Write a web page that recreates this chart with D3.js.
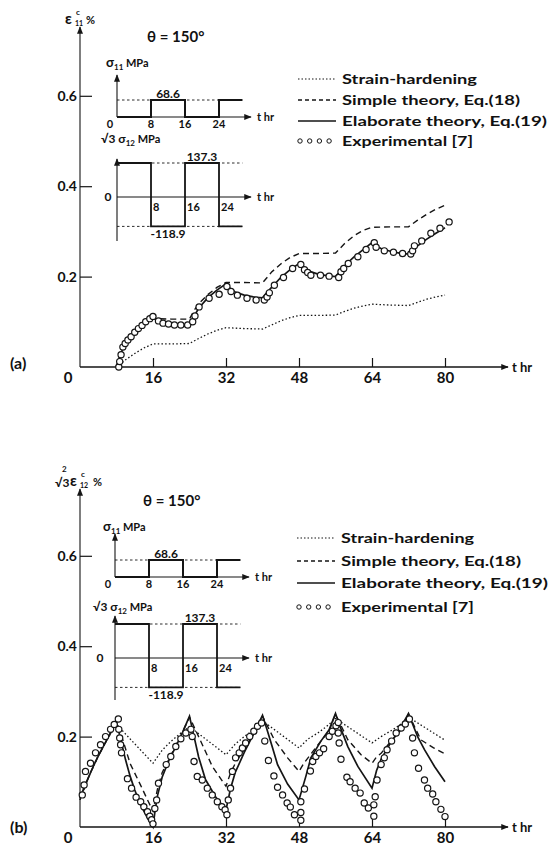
<!DOCTYPE html>
<html>
<head>
<meta charset="utf-8">
<script src="https://cdn.jsdelivr.net/npm/d3@7"></script>
<style>
  body { margin: 0; background: #fff; }
  text { font-family: Lato, "DejaVu Sans", sans-serif; font-weight: bold; fill: #111; }
</style>
</head>
<body>
<svg id="chart" width="549" height="846"></svg>
<script>
// ---- data ----
const xTicks = [16, 32, 48, 64, 80];
const yTicks = [0.2, 0.4, 0.6];
const legendLabels = ['Strain-hardening', 'Simple theory, Eq.(18)', 'Elaborate theory, Eq.(19)', 'Experimental [7]'];

// loading history shown in the insets (hours, MPa)
const stepTimes = [0, 8, 16, 24, 29.5];
const sigma11Steps = [0, 68.6, 0, 68.6, 68.6];
const sigma12Steps = [137.3, -118.9, 137.3, -118.9, -118.9];
const stepTickLabels = [8, 16, 24];

// (a) axial creep strain eps11 [%] vs t [hr]
const hardeningA = [[8,0],[10,0.016],[12,0.03],[14,0.042],[16,0.051],[20,0.051],[24,0.052],[26,0.063],[28,0.073],[30,0.081],[32,0.087],[36,0.085],[40,0.084],[42,0.093],[44,0.102],[46,0.109],[48,0.114],[52,0.114],[56,0.115],[58,0.123],[60,0.13],[62,0.135],[64,0.139],[68,0.137],[72,0.136],[74,0.143],[76,0.15],[78,0.155],[80,0.159]];
const simpleA = [[8,0],[8.5,0.018],[9,0.03],[9.5,0.043],[10,0.053],[11,0.066],[12,0.077],[14,0.095],[16,0.107],[20,0.106],[24,0.106],[25,0.125],[26,0.14],[28,0.16],[30,0.176],[32,0.187],[36,0.187],[40,0.186],[42,0.21],[44,0.228],[46,0.242],[48,0.251],[52,0.251],[56,0.252],[58,0.273],[60,0.29],[62,0.302],[64,0.309],[68,0.31],[72,0.31],[74,0.325],[76,0.338],[78,0.349],[80,0.358]];
const elaborateA = [[8,0],[8.5,0.018],[9,0.03],[9.5,0.044],[10,0.054],[11,0.066],[12,0.077],[13,0.088],[14,0.097],[15,0.104],[16,0.111],[17,0.104],[18,0.099],[20,0.094],[22,0.091],[24,0.089],[25,0.112],[26,0.13],[28,0.153],[30,0.17],[32,0.184],[33,0.173],[34,0.166],[36,0.159],[38,0.155],[40,0.153],[41,0.165],[42,0.176],[44,0.198],[46,0.215],[48,0.229],[49,0.219],[50,0.213],[52,0.206],[54,0.202],[56,0.2],[57,0.212],[58,0.224],[60,0.243],[62,0.259],[64,0.275],[65,0.267],[66,0.262],[68,0.256],[70,0.252],[72,0.25],[73,0.26],[74,0.268],[76,0.283],[78,0.296],[80,0.308]];
const experimentA = [[8.5,0],[8.7,0.012],[9,0.027],[9.4,0.044],[9.9,0.052],[10.5,0.06],[11.2,0.067],[12,0.077],[12.8,0.085],[13.6,0.092],[14.4,0.1],[15.3,0.107],[16,0.112],[17.2,0.102],[18.2,0.097],[19.4,0.095],[20.7,0.093],[22.1,0.093],[23.6,0.093],[24.7,0.1],[25.2,0.113],[26.1,0.133],[28.3,0.152],[30.5,0.161],[32.2,0.178],[33.1,0.167],[34.5,0.159],[36.6,0.152],[38.6,0.148],[40.4,0.148],[41,0.155],[41.5,0.164],[42.6,0.181],[44.6,0.198],[46.6,0.218],[48.4,0.227],[49.2,0.215],[49.9,0.209],[50.6,0.203],[52.7,0.203],[54.6,0.201],[56.7,0.198],[57.2,0.211],[57.8,0.218],[58.8,0.229],[60.9,0.244],[62.7,0.26],[64.5,0.275],[64.9,0.265],[66.7,0.257],[68.7,0.254],[70.7,0.251],[72.5,0.25],[72.9,0.257],[73.3,0.268],[74.9,0.279],[76.9,0.296],[78.9,0.307],[80.9,0.321]];

// (b) shear creep strain 2/sqrt3 eps12 [%] vs t [hr]
const hardeningB = [[0,0.06],[2,0.113],[4,0.157],[6,0.195],[8,0.227],[16,0.141],[18,0.17],[20,0.19],[22,0.207],[24,0.222],[32,0.16],[34,0.183],[36,0.2],[38,0.215],[40,0.235],[48,0.175],[50,0.195],[52,0.207],[54,0.222],[56,0.24],[64,0.186],[66,0.2],[68,0.212],[70,0.225],[72,0.243],[80,0.192]];
const simpleB = [[0,0.06],[1,0.088],[2,0.113],[3,0.136],[4,0.157],[5,0.176],[6,0.195],[7,0.214],[8,0.232],[9,0.205],[11,0.14],[13.3,0.092],[14.8,0.06],[16,0.035],[17,0.085],[18,0.12],[20,0.16],[22,0.2],[24,0.243],[26,0.2],[29,0.134],[32,0.09],[33,0.12],[34,0.14],[36,0.172],[38,0.205],[40,0.245],[42.6,0.193],[45.5,0.153],[48,0.123],[49,0.14],[50.5,0.16],[52.8,0.19],[54.6,0.213],[56,0.25],[58.7,0.193],[61.6,0.16],[64,0.141],[65,0.155],[66,0.163],[68,0.188],[70,0.21],[72,0.25],[74.7,0.193],[77.5,0.175],[80,0.162]];
const elaborateB = [[0,0.064],[1,0.09],[2,0.113],[3,0.136],[4,0.157],[5,0.176],[6,0.195],[7,0.214],[8,0.232],[9,0.19],[10,0.148],[11,0.112],[12,0.082],[13,0.056],[14,0.035],[15,0.016],[16,0],[16.5,0.04],[17,0.07],[18,0.11],[19.5,0.148],[21,0.178],[22.5,0.21],[24,0.245],[25,0.2],[26,0.155],[27.5,0.105],[29.7,0.067],[32,0.038],[33,0.085],[34,0.12],[36,0.165],[38,0.205],[40,0.247],[41,0.215],[42,0.182],[43.3,0.138],[45.5,0.095],[48,0.06],[49.5,0.112],[50.6,0.153],[52.8,0.19],[54.6,0.215],[56,0.251],[57,0.222],[58.7,0.178],[60.9,0.134],[64,0.086],[65,0.125],[66,0.15],[68,0.185],[70,0.215],[72,0.251],[73,0.225],[74,0.2],[75.5,0.171],[77.7,0.134],[80,0.1]];
const experimentB = [[0.5,0.071],[0.9,0.093],[1.2,0.123],[2.3,0.141],[3.4,0.164],[4.5,0.182],[5.6,0.2],[6.7,0.216],[7.5,0.227],[8.4,0.239],[8.5,0.216],[8.7,0.197],[8.9,0.182],[9.1,0.164],[10.4,0.107],[11.3,0.086],[12.3,0.066],[13.3,0.056],[14,0.045],[14.8,0.034],[15.3,0.024],[15.7,0.016],[16,0.007],[16.4,0.041],[16.8,0.06],[17.2,0.097],[18.9,0.138],[19.9,0.156],[21,0.178],[22.1,0.195],[23.2,0.208],[24.3,0.216],[24.6,0.2],[25,0.145],[25.7,0.112],[26.8,0.104],[27.9,0.086],[29,0.071],[30.1,0.056],[31.1,0.045],[31.8,0.038],[32.2,0.027],[32.5,0.06],[33,0.086],[33.4,0.123],[34.1,0.153],[34.9,0.164],[35.6,0.175],[36.3,0.186],[37.2,0.2],[38.1,0.212],[38.9,0.223],[39.8,0.23],[40.5,0.19],[41.3,0.147],[42.5,0.113],[43.3,0.088],[44.4,0.071],[45.4,0.053],[46.1,0.044],[47,0.027],[48.4,0.056],[48.4,0.032],[48.4,0.015],[49.2,0.084],[50.5,0.124],[51,0.145],[51.7,0.156],[52.5,0.164],[53.4,0.173],[54.6,0.2],[55.3,0.212],[56.1,0.224],[56.6,0.231],[56.6,0.208],[56.8,0.186],[57.2,0.15],[58.5,0.11],[59.2,0.1],[60.3,0.086],[61.4,0.075],[62.3,0.053],[63.2,0.042],[64.4,0.049],[64.4,0.024],[64.7,0.067],[65.1,0.104],[66,0.138],[66.7,0.153],[67.3,0.171],[68.3,0.19],[69.3,0.208],[70.4,0.219],[71.3,0.228],[72.2,0.239],[72.9,0.197],[73.3,0.164],[74.2,0.13],[75.5,0.104],[76.2,0.086],[77.3,0.073],[78,0.056],[79.1,0.039],[80,0.023]];

// ---- layout of the two panels ----
const panels = [
  {
    tag: '(a)', y0: 367, yTop: 27, tagY: 369, thetaX: 147, thetaY: 42,
    ylabel: 'a', legendX: 298, legendRows: [79, 100, 121, 141],
    legendWidths: [135, 178, 205, 131],
    inset: { x0: 117, base1: 117, top1: 75, title1: [106, 67], zero2: 197, top2: 159, bot2: 241, title2: [101, 143], zeroLabelDx: -9 },
    series: { hardening: hardeningA, simple: simpleA, elaborate: elaborateA, experiment: experimentA }
  },
  {
    tag: '(b)', y0: 827, yTop: 489, tagY: 833, thetaX: 143, thetaY: 506,
    ylabel: 'b', legendX: 297, legendRows: [538, 561, 583, 607],
    legendWidths: [133, 180, 207, 133],
    inset: { x0: 115, base1: 577, top1: 534, title1: [103, 531], zero2: 658, top2: 616, bot2: 700, title2: [93, 611], zeroLabelDx: -15 },
    series: { hardening: hardeningB, simple: simpleB, elaborate: elaborateB, experiment: experimentB }
  }
];

const ink = '#151515';
const svg = d3.select('#chart');

const defs = svg.append('defs');
defs.append('marker')
  .attr('id', 'arrow')
  .attr('viewBox', '0 -4 10 8')
  .attr('refX', 9).attr('refY', 0)
  .attr('markerWidth', 8).attr('markerHeight', 6)
  .attr('markerUnits', 'userSpaceOnUse')
  .attr('orient', 'auto')
  .append('path')
  .attr('d', 'M0,-4L10,0L0,4Z')
  .attr('fill', ink);

function arrowLine(g, x1, y1, x2, y2, w) {
  g.append('line')
    .attr('x1', x1).attr('y1', y1).attr('x2', x2).attr('y2', y2)
    .attr('stroke', ink).attr('stroke-width', w || 1.2)
    .attr('marker-end', 'url(#arrow)');
}

function drawInsets(g, ins) {
  const sx = d3.scaleLinear().domain([0, 24]).range([ins.x0, ins.x0 + 102]);
  const s1 = d3.scaleLinear().domain([0, 68.6]).range([ins.base1, ins.base1 - 17]);
  const s2 = d3.scaleLinear().domain([-118.9, 137.3]).range([ins.zero2 + 29.4, ins.zero2 - 34]);
  const xEnd = sx(stepTimes[stepTimes.length - 1]);

  // sigma11 inset
  g.append('line')
    .attr('x1', ins.x0).attr('x2', xEnd)
    .attr('y1', s1(68.6)).attr('y2', s1(68.6))
    .attr('stroke', ink).attr('stroke-width', 0.9).attr('stroke-dasharray', '2.5,2.5');
  arrowLine(g, ins.x0, ins.base1, ins.x0 + 134, ins.base1, 1.1);
  arrowLine(g, ins.x0, ins.base1, ins.x0, ins.top1, 1.1);
  const step1 = d3.line().curve(d3.curveStepAfter)
    .x((d, i) => sx(stepTimes[i])).y(d => s1(d));
  g.append('path').datum(sigma11Steps)
    .attr('d', step1).attr('fill', 'none')
    .attr('stroke', ink).attr('stroke-width', 2);

  g.append('text').attr('x', ins.x0 - 7).attr('y', ins.base1 + 11)
    .attr('text-anchor', 'middle').style('font-size', '11px').text('0');
  g.selectAll('.t1').data(stepTickLabels).join('text')
    .attr('x', d => sx(d)).attr('y', ins.base1 + 11)
    .attr('text-anchor', 'middle').style('font-size', '11px').text(d => d);
  g.append('text').attr('x', sx(12)).attr('y', s1(68.6) - 2.5)
    .attr('text-anchor', 'middle').style('font-size', '12px').text('68.6');
  g.append('text').attr('x', ins.x0 + 140).attr('y', ins.base1 + 4)
    .style('font-size', '11px').text('t  hr');
  const t1 = g.append('text').attr('x', ins.title1[0]).attr('y', ins.title1[1])
    .style('font-size', '13px');
  t1.append('tspan').text('σ');
  t1.append('tspan').attr('dy', 3).style('font-size', '8px').text('11');
  t1.append('tspan').attr('dy', -3).style('font-size', '11px').text(' MPa');

  // sigma12 inset
  [137.3, -118.9].forEach(v => {
    g.append('line')
      .attr('x1', ins.x0).attr('x2', xEnd)
      .attr('y1', s2(v)).attr('y2', s2(v))
      .attr('stroke', ink).attr('stroke-width', 0.9).attr('stroke-dasharray', '2.5,2.5');
  });
  g.append('line')
    .attr('x1', ins.x0).attr('x2', ins.x0)
    .attr('y1', ins.bot2).attr('y2', ins.zero2)
    .attr('stroke', ink).attr('stroke-width', 1.1);
  arrowLine(g, ins.x0, ins.zero2, ins.x0, ins.top2, 1.1);
  arrowLine(g, ins.x0, ins.zero2, ins.x0 + 134, ins.zero2, 1.1);
  const step2 = d3.line().curve(d3.curveStepAfter)
    .x((d, i) => sx(stepTimes[i])).y(d => s2(d));
  g.append('path').datum(sigma12Steps)
    .attr('d', step2).attr('fill', 'none')
    .attr('stroke', ink).attr('stroke-width', 1.8);

  g.append('text').attr('x', ins.x0 + ins.zeroLabelDx).attr('y', ins.zero2 + 4)
    .attr('text-anchor', 'middle').style('font-size', '12px').text('0');
  g.selectAll('.t2').data(stepTickLabels).join('text')
    .attr('x', d => sx(d) + 2).attr('y', ins.zero2 + 14)
    .style('font-size', '11px').text(d => d);
  g.append('text').attr('x', sx(20)).attr('y', s2(137.3) - 2.5)
    .attr('text-anchor', 'middle').style('font-size', '12px').text('137.3');
  g.append('text').attr('x', sx(12)).attr('y', s2(-118.9) + 12)
    .attr('text-anchor', 'middle').style('font-size', '12px').text('-118.9');
  g.append('text').attr('x', ins.x0 + 140).attr('y', ins.zero2 + 4)
    .style('font-size', '11px').text('t  hr');
  const t2 = g.append('text').attr('x', ins.title2[0]).attr('y', ins.title2[1])
    .style('font-size', '12px');
  t2.append('tspan').text('√3 σ');
  t2.append('tspan').attr('dy', 3).style('font-size', '8px').text('12');
  t2.append('tspan').attr('dy', -3).style('font-size', '11px').text(' MPa');
}

function drawPanel(p) {
  const g = svg.append('g');
  const x = d3.scaleLinear().domain([0, 80]).range([80, 445]);
  const y = d3.scaleLinear().domain([0, 0.6]).range([p.y0, p.y0 - 271.2]);

  // axes
  arrowLine(g, 80, p.y0, 508, p.y0, 1.4);
  arrowLine(g, 80, p.y0, 80, p.yTop, 1.1);

  const xAxis = g.append('g')
    .attr('transform', `translate(0,${p.y0})`)
    .call(d3.axisBottom(x).tickValues(xTicks).tickSizeInner(-9).tickSizeOuter(0).tickPadding(5));
  xAxis.select('.domain').remove();
  xAxis.selectAll('line').attr('stroke', ink).attr('stroke-width', 1.2);
  xAxis.selectAll('text').attr('fill', ink).style('font-size', '15px')
    .style('font-family', 'Lato, "DejaVu Sans", sans-serif').style('font-weight', 'bold');

  const yAxis = g.append('g')
    .attr('transform', 'translate(80,0)')
    .call(d3.axisLeft(y).tickValues(yTicks).tickSizeInner(-12).tickSizeOuter(0)
      .tickPadding(3).tickFormat(d3.format('.1f')));
  yAxis.select('.domain').remove();
  yAxis.selectAll('line').attr('stroke', ink).attr('stroke-width', 1.2);
  yAxis.selectAll('text').attr('fill', ink).style('font-size', '14px')
    .style('font-family', 'Lato, "DejaVu Sans", sans-serif').style('font-weight', 'bold');

  g.append('text').attr('x', 68).attr('y', p.y0 + 16)
    .attr('text-anchor', 'middle').style('font-size', '15px').text('0');
  g.append('text').attr('x', 512).attr('y', p.y0 + 5)
    .style('font-size', '13px').text('t  hr');
  g.append('text').attr('x', 10).attr('y', p.tagY)
    .style('font-size', '16px').text(p.tag);

  // y label
  if (p.ylabel === 'a') {
    g.append('text').attr('x', 65).attr('y', 24).style('font-size', '15px').text('ε');
    g.append('text').attr('x', 76).attr('y', 15).style('font-size', '8px').text('c');
    g.append('text').attr('x', 75).attr('y', 26).style('font-size', '7px').text('11');
    g.append('text').attr('x', 86).attr('y', 24).style('font-size', '11px').text('%');
  } else {
    g.append('text').attr('x', 62).attr('y', 472).style('font-size', '8px').text('2');
    g.append('text').attr('x', 55).attr('y', 487).style('font-size', '12px').text('√3');
    g.append('text').attr('x', 70).attr('y', 486).style('font-size', '15px').text('ε');
    g.append('text').attr('x', 81).attr('y', 477).style('font-size', '8px').text('c');
    g.append('text').attr('x', 80).attr('y', 488).style('font-size', '7px').text('12');
    g.append('text').attr('x', 93).attr('y', 486).style('font-size', '11px').text('%');
  }
  g.append('text').attr('x', p.thetaX).attr('y', p.thetaY)
    .style('font-size', '15px').text('θ = 150°');

  drawInsets(g, p.inset);

  // curves
  const line = d3.line().x(d => x(d[0])).y(d => y(d[1]));
  g.append('path').datum(p.series.hardening).attr('d', line)
    .attr('fill', 'none').attr('stroke', ink).attr('stroke-width', 1.3)
    .attr('stroke-dasharray', '1.5,2.2');
  g.append('path').datum(p.series.simple).attr('d', line)
    .attr('fill', 'none').attr('stroke', ink).attr('stroke-width', 1.4)
    .attr('stroke-dasharray', '6,4');
  g.append('path').datum(p.series.elaborate).attr('d', line)
    .attr('fill', 'none').attr('stroke', ink).attr('stroke-width', 1.7);
  g.append('g').selectAll('circle').data(p.series.experiment).join('circle')
    .attr('cx', d => x(d[0])).attr('cy', d => y(d[1])).attr('r', 3.1)
    .attr('fill', '#fff').attr('stroke', ink).attr('stroke-width', 1.2);

  // legend
  const lg = g.append('g');
  const lx = p.legendX;
  const styles = [
    { dash: '1.5,2', w: 1.1 },
    { dash: '4,3', w: 1.3 },
    { dash: null, w: 1.3 }
  ];
  styles.forEach((s, i) => {
    lg.append('line')
      .attr('x1', lx).attr('x2', lx + 38)
      .attr('y1', p.legendRows[i]).attr('y2', p.legendRows[i])
      .attr('stroke', ink).attr('stroke-width', s.w)
      .attr('stroke-dasharray', s.dash);
  });
  lg.selectAll('circle').data([0, 1, 2, 3]).join('circle')
    .attr('cx', d => lx + 2 + d * 9.7).attr('cy', p.legendRows[3])
    .attr('r', 2.2).attr('fill', '#fff').attr('stroke', ink).attr('stroke-width', 1);
  lg.selectAll('text').data(legendLabels).join('text')
    .attr('x', lx + 44).attr('y', (d, i) => p.legendRows[i] + 5)
    .attr('textLength', (d, i) => p.legendWidths[i])
    .attr('lengthAdjust', 'spacingAndGlyphs')
    .style('font-size', '14px').text(d => d);
}

panels.forEach(drawPanel);
</script>
</body>
</html>
